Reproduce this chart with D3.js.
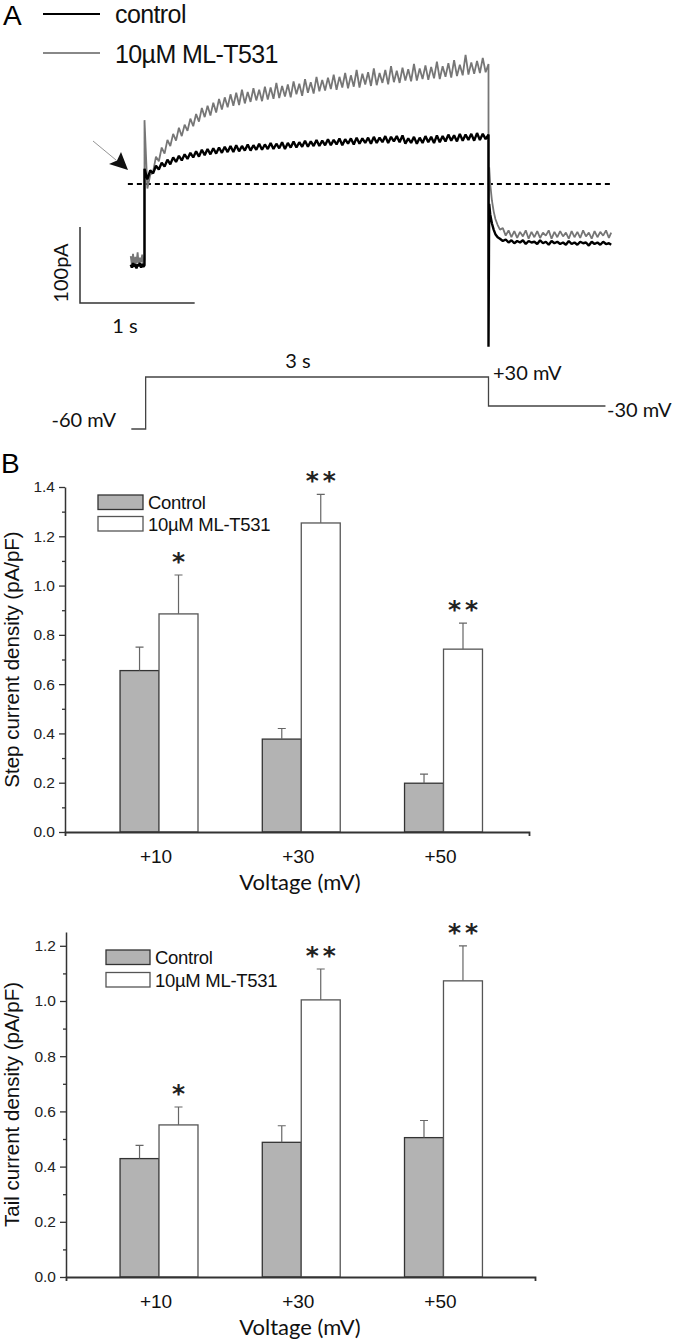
<!DOCTYPE html>
<html><head><meta charset="utf-8">
<script src="https://cdn.jsdelivr.net/npm/d3@7"></script>
<style>body{margin:0;background:#fff}svg{display:block}</style>
</head><body>
<svg id="fig" width="674" height="1343"></svg>
<script>
// ---------- Panel A: current traces (pA), time in s ----------
const legendLabels = ["control", "10\u00b5M ML-T531"];
const preT = [-0.12,-0.11,-0.10,-0.09,-0.08,-0.07,-0.06,-0.05,-0.04,-0.03,-0.02,-0.01,0];
const preGray  = [-95,-106,-92,-108,-96,-104,-90,-107,-97,-103,-93,-106,-99];
const preBlack = [-106,-110,-104,-109,-105,-111,-106,-108,-104,-110,-105,-109,-107];
const stepDt = 0.025; // sampling interval of the plotted step segment
const stepBlack = [20,6,18,14,24,19,28,23,32,26,35,
  29,37,31,39,33,41,35,43,36,45,
  38,46,39,47,40,48,41,49,42,50,
  42,51,43,50,44,52,44,51,45,53,
  45,52,46,54,46,53,47,55,46,54,
  48,56,48,55,49,57,49,56,50,58,
  50,57,51,59,51,58,52,60,51,59,
  53,60,52,61,53,60,54,61,53,62,
  54,61,55,63,54,62,56,63,55,64,
  53,60,54,62,53,61,54,63,55,62,
  54,64,55,63,56,65,57,64,56,66,
  57,65,58,66,57,67,58,66,59,65];
const stepGray = [84,-6,12,16,36,30,48,40,58,50,66,
  57,74,63,78,70,86,76,92,82,100,
  88,103,90,107,94,112,98,114,101,118,
  103,120,104,124,106,121,108,126,110,124,
  109,128,111,127,112,133,113,129,115,131,
  114,135,118,132,116,138,120,134,119,141,
  122,137,123,140,125,144,124,141,127,146,
  126,143,128,150,127,145,131,147,129,152,
  130,146,133,150,131,155,134,149,133,153,
  136,151,135,158,136,152,138,156,137,154,
  139,161,138,155,141,159,140,163,142,157,
  143,170,144,160,145,162,146,166,147,158];
const tailT = [3.0,3.006,3.015,3.03,3.045,3.06,3.08,3.1,3.125,3.15,
  3.175,3.2,3.225,3.25,3.275,3.3,3.325,3.35,3.375,3.4,
  3.425,3.45,3.475,3.5,3.525,3.55,3.575,3.6,3.625,3.65,
  3.675,3.7,3.725,3.75,3.775,3.8,3.825,3.85,3.875,3.9,
  3.925,3.95,3.975,4.0,4.025,4.05,4.07];
const tailGray = [-126,22,0,-22,-36,-46,-54,-60,-58,-68,
  -61,-70,-62,-71,-63,-69,-61,-72,-63,-70,
  -62,-71,-64,-68,-61,-72,-63,-70,-62,-69,
  -64,-72,-62,-70,-63,-71,-61,-69,-64,-72,
  -62,-70,-63,-68,-61,-71,-64];
const tailBlack = [-214,-26,-40,-52,-60,-66,-70,-72,-75,-73,
  -77,-74,-78,-75,-77,-74,-79,-75,-77,-76,
  -79,-74,-78,-76,-80,-75,-78,-76,-79,-77,
  -80,-75,-79,-77,-80,-76,-78,-77,-81,-76,
  -79,-77,-80,-76,-79,-78,-80];
// voltage protocol (schematic)
const protoT = [-0.115, 0.01, 0.01, 3.0, 3.0, 4.02];
const protoV = [-60, -60, 30, 30, -30, -30];
const protoLabels = ["-60 mV", "3 s", "+30 mV", "-30 mV"];
const scaleBarLabels = ["100pA", "1 s"];

// ---------- Panel B: bar data ----------
const voltages = [10, 30, 50];
const voltLabels = ["+10", "+30", "+50"];
const seriesLabels = ["Control", "10\u00b5M ML-T531"];
const stepControl = [0.655, 0.377, 0.198];
const stepControlErr = [0.095, 0.043, 0.037];
const stepMLT = [0.885, 1.254, 0.742];
const stepMLTErr = [0.158, 0.116, 0.106];
const stepSig = ["*", "**", "**"];
const stepTicks = [0, 0.2, 0.4, 0.6, 0.8, 1.0, 1.2, 1.4];
const stepMinor = [0.1, 0.3, 0.5, 0.7, 0.9, 1.1, 1.3];
const tailControl = [0.429, 0.488, 0.505];
const tailControlErr = [0.048, 0.060, 0.062];
const tailMLT = [0.551, 1.004, 1.073];
const tailMLTErr = [0.065, 0.112, 0.127];
const tailSig = ["*", "**", "**"];
const tailTicks = [0, 0.2, 0.4, 0.6, 0.8, 1.0, 1.2];
const tailMinor = [0.1, 0.3, 0.5, 0.7, 0.9, 1.1];

const svg = d3.select("#fig");
const ARIAL = "'Liberation Sans', Arial, sans-serif";
const HUM = "Lato, 'Open Sans', sans-serif";

// ===== Panel A =====
svg.append("text").attr("x", 3).attr("y", 25).attr("font-family", ARIAL)
  .attr("font-size", 28).text("A");
// legend
[["#000", 14, 22], ["#888", 53, 62]].forEach((c, i) => {
  svg.append("line").attr("x1", 43).attr("x2", 100).attr("y1", c[1]).attr("y2", c[1])
    .attr("stroke", c[0]).attr("stroke-width", 2);
  svg.append("text").attr("x", 115).attr("y", c[2] + 1).attr("font-family", ARIAL)
    .attr("font-size", 25).attr("letter-spacing", -0.6).attr("fill", "#111").text(legendLabels[i]);
});

const tx = d3.scaleLinear().domain([0, 3]).range([144.5, 488.5]);
const ty = d3.scaleLinear().domain([0, 100]).range([184, 108]);

function pts(pre, step, tail) {
  return pre.map((v, i) => [preT[i], v])
    .concat(step.map((v, i) => [i * stepDt, v]))
    .concat(tail.map((v, i) => [tailT[i], v]));
}
const line = d3.line().x(d => tx(d[0])).y(d => ty(d[1]));

// dashed zero line
svg.append("line").attr("x1", tx(-0.145)).attr("x2", tx(4.07))
  .attr("y1", ty(0)).attr("y2", ty(0)).attr("stroke", "#000")
  .attr("stroke-width", 2).attr("stroke-dasharray", "5,4");

svg.append("path").attr("d", line(pts(preGray, stepGray, tailGray)))
  .attr("fill", "none").attr("stroke", "#767676").attr("stroke-width", 1.8)
  .attr("stroke-linejoin", "bevel");
svg.append("path").attr("d", line(pts(preBlack, stepBlack, tailBlack)))
  .attr("fill", "none").attr("stroke", "#000").attr("stroke-width", 2.4)
  .attr("stroke-linejoin", "bevel");

// arrow
svg.append("line").attr("x1", 93).attr("y1", 141).attr("x2", 116).attr("y2", 160)
  .attr("stroke", "#888").attr("stroke-width", 0.9);
svg.append("path").attr("d", "M128,170 L109,164 L117,160.5 L121,152 Z").attr("fill", "#111");

// scale bars
const sbX = 80, sbY = 303;
svg.append("path")
  .attr("d", `M${sbX},${sbY - (ty(0) - ty(100))} V${sbY} H${sbX + (tx(1) - tx(0))}`)
  .attr("fill", "none").attr("stroke", "#333").attr("stroke-width", 1.5);
svg.append("text").attr("transform", `translate(68,${sbY - 30}) rotate(-90)`)
  .attr("text-anchor", "middle").attr("font-family", HUM).attr("font-size", 20)
  .attr("fill", "#111").text(scaleBarLabels[0]);
svg.append("text").attr("x", 125).attr("y", 333).attr("text-anchor", "middle")
  .attr("font-family", HUM).attr("font-size", 20).attr("fill", "#111").text(scaleBarLabels[1]);

// protocol
const py = d3.scaleLinear().domain([-60, -30, 30]).range([429, 406, 377]);
svg.append("path").attr("d", d3.line().x(d => tx(d[0])).y(d => py(d[1]))(protoT.map((t, i) => [t, protoV[i]])))
  .attr("fill", "none").attr("stroke", "#444").attr("stroke-width", 1.3);
const pl = [[116, 427, "end"], [298, 368, "middle"], [493, 380, "start"], [607, 417, "start"]];
pl.forEach((p, i) => svg.append("text").attr("x", p[0]).attr("y", p[1]).attr("text-anchor", p[2])
  .attr("font-family", HUM).attr("font-size", 20).attr("fill", "#111").text(protoLabels[i]));

// ===== Panel B =====
svg.append("text").attr("x", 1).attr("y", 473).attr("font-family", ARIAL)
  .attr("font-size", 28).text("B");

function barChart(o) {
  const g = svg.append("g");
  const x = d3.scaleLinear().domain(o.xDomain).range(o.xRange);
  const y = d3.scaleLinear().domain(o.yDomain).range(o.yRange);
  const bw = 5.48; // bar width in mV units
  const bpx = x(bw) - x(0);
  // bars
  g.selectAll(".c").data(voltages).join("rect")
    .attr("x", d => x(d - bw)).attr("width", bpx)
    .attr("y", (d, i) => y(o.ctl[i])).attr("height", (d, i) => y(0) - y(o.ctl[i]))
    .attr("fill", "#b3b3b3").attr("stroke", "#333").attr("stroke-width", 1.3);
  g.selectAll(".m").data(voltages).join("rect")
    .attr("x", d => x(d)).attr("width", bpx)
    .attr("y", (d, i) => y(o.ml[i])).attr("height", (d, i) => y(0) - y(o.ml[i]))
    .attr("fill", "#fff").attr("stroke", "#555").attr("stroke-width", 1.3);
  // error bars
  const eb = [];
  voltages.forEach((v, i) => {
    eb.push([x(v - bw / 2), y(o.ctl[i]), y(o.ctl[i] + o.ctlErr[i])]);
    eb.push([x(v + bw / 2), y(o.ml[i]), y(o.ml[i] + o.mlErr[i])]);
  });
  g.selectAll(".e").data(eb).join("path")
    .attr("d", d => `M${d[0]},${d[1]}V${d[2]}M${d[0] - 4},${d[2]}H${d[0] + 4}`)
    .attr("fill", "none").attr("stroke", "#666").attr("stroke-width", 1.2);
  // significance
  voltages.forEach((v, i) => {
    const cx = x(v + bw / 2), yy = y(o.ml[i] + o.mlErr[i]) - 18 + 13;
    const offs = o.sig[i].length === 2 ? [-8.5, 8.5] : [0];
    offs.forEach(off => g.append("text").attr("x", cx + off).attr("y", yy)
      .attr("text-anchor", "middle").attr("font-family", "'DejaVu Sans', sans-serif")
      .attr("font-size", 25).attr("font-weight", "bold").attr("fill", "#222").text("*"));
  });
  // axes
  const ya = g.append("g").attr("transform", `translate(${o.xRange[0]},0)`)
    .call(d3.axisLeft(y).tickValues(o.ticks).tickSize(6).tickSizeOuter(0).tickFormat(d3.format(".1f")));
  ya.append("g").call(d3.axisLeft(y).tickValues(o.minor).tickSize(3).tickFormat(""))
    .select(".domain").remove();
  ya.selectAll("line").attr("stroke", "#333").attr("stroke-width", 1.3);
  ya.select(".domain").attr("stroke", "#333").attr("stroke-width", 1.5);
  ya.selectAll("text").attr("font-family", ARIAL).attr("font-size", 15.5).attr("fill", "#222").attr("x", -10);
  const xa = g.append("g").attr("transform", `translate(0,${o.yRange[0]})`)
    .call(d3.axisBottom(x).tickValues([]).tickSizeOuter(4));
  xa.select(".domain").attr("stroke", "#333").attr("stroke-width", 1.8);
  g.selectAll(".xl").data(voltages).join("text")
    .attr("x", d => x(d) - 3).attr("y", o.yRange[0] + 31).attr("text-anchor", "middle")
    .attr("font-family", ARIAL).attr("font-size", 19).attr("fill", "#111")
    .text((d, i) => voltLabels[i]);
  g.append("text").attr("x", 300).attr("y", o.yRange[0] + 58).attr("text-anchor", "middle")
    .attr("font-family", HUM).attr("font-size", 22).attr("fill", "#111").text("Voltage (mV)");
  g.append("text").attr("transform", `translate(19,${(o.yRange[0] + o.yRange[1]) / 2}) rotate(-90)`)
    .attr("text-anchor", "middle").attr("font-family", ARIAL).attr("font-size", 20.5)
    .attr("fill", "#111").text(o.title);
  // legend
  const L = o.legend;
  [["#b3b3b3", "#333"], ["#fff", "#555"]].forEach((c, i) => {
    g.append("rect").attr("x", L[0]).attr("y", L[1] + i * L[3]).attr("width", L[2]).attr("height", 14.5)
      .attr("fill", c[0]).attr("stroke", c[1]).attr("stroke-width", 1.3);
    g.append("text").attr("x", L[0] + L[2] + 5).attr("y", L[1] + i * L[3] + 14)
      .attr("font-family", ARIAL).attr("font-size", 18.5).attr("letter-spacing", -0.3)
      .attr("fill", "#111").text(seriesLabels[i]);
  });
}

barChart({xDomain: [-3.22, 62.02], xRange: [65, 529], yDomain: [0, 1.4], yRange: [832, 487],
  ctl: stepControl, ctlErr: stepControlErr, ml: stepMLT, mlErr: stepMLTErr, sig: stepSig,
  ticks: stepTicks, minor: stepMinor, title: "Step current density (pA/pF)",
  legend: [98, 495, 45, 21.5]});
barChart({xDomain: [-3.08, 62.87], xRange: [66, 535], yDomain: [0, 1.25], yRange: [1277, 932],
  ctl: tailControl, ctlErr: tailControlErr, ml: tailMLT, mlErr: tailMLTErr, sig: tailSig,
  ticks: tailTicks, minor: tailMinor, title: "Tail current density (pA/pF)",
  legend: [106, 950, 44, 22.5]});
</script></body></html>
